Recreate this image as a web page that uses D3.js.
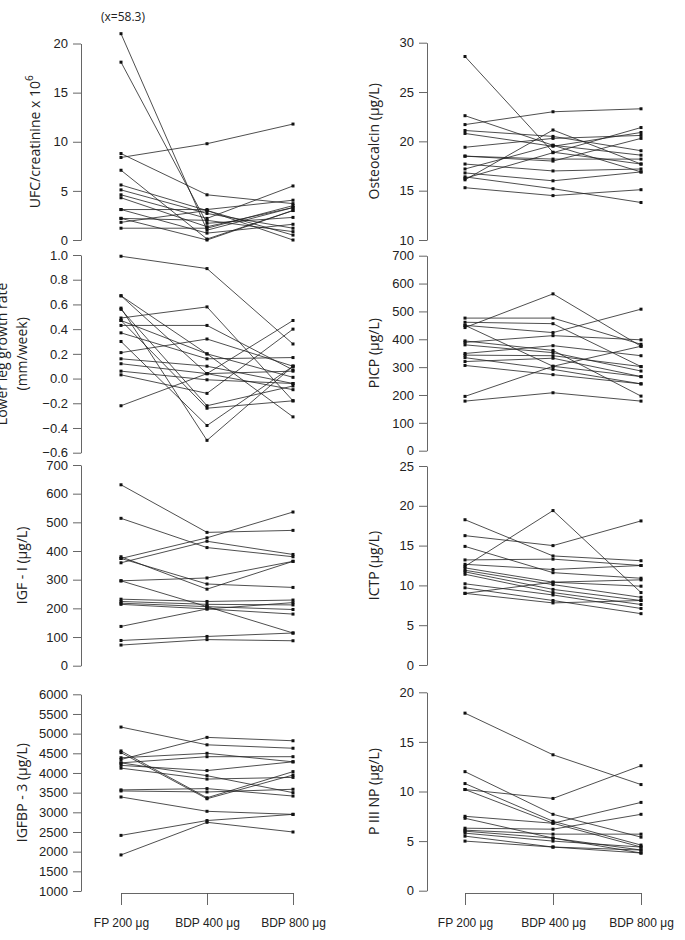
<!DOCTYPE html>
<html>
<head>
<meta charset="utf-8">
<script src="https://cdn.jsdelivr.net/npm/d3@7"></script>
<style>
  html, body { margin: 0; padding: 0; background: #fff; }
  svg { display: block; font-family: "Open Sans", "Noto Sans", sans-serif; }
</style>
</head>
<body>
<svg id="chart" width="685" height="940"></svg>
<script>
// ---------------- data (one triple per subject: FP 200, BDP 400, BDP 800) ----------------
const treatments = ["FP 200 μg", "BDP 400 μg", "BDP 800 μg"];

const ufc = [
  [21.0, 1.0, 3.3], [18.1, 1.7, 2.3], [8.4, 9.8, 11.8], [8.8, 4.6, 3.7],
  [7.1, 0.1, 3.0], [5.6, 3.0, 0.5], [5.1, 2.7, 1.2], [4.6, 2.2, 5.5],
  [4.3, 1.35, 3.3], [3.1, 3.1, 4.05], [3.1, 0.7, 1.6], [2.2, 2.0, 0.85],
  [1.8, 3.0, 0.0], [1.2, 1.2, 3.5], [2.2, 0.0, 3.0]
];
const ufcOffScale = "(x=58.3)";

const osteocalcin = [
  [28.6, 18.9, 17.7], [21.7, 23.0, 23.3], [22.6, 19.6, 18.6], [16.1, 21.15, 17.7],
  [16.25, 18.85, 21.4], [21.1, 20.5, 19.05], [20.8, 19.5, 20.9], [19.4, 20.3, 20.6],
  [18.5, 18.2, 18.2], [18.5, 18.0, 20.3], [17.7, 17.0, 17.2], [17.2, 19.6, 16.9],
  [16.8, 16.0, 16.9], [16.4, 15.2, 13.8], [15.3, 14.5, 15.1]
];

const legGrowth = [
  [0.99, 0.89, 0.28], [0.49, 0.58, -0.18], [0.43, 0.43, 0.07], [0.21, 0.32, 0.10],
  [0.67, 0.04, 0.06], [0.57, -0.50, 0.10], [0.56, -0.22, -0.06], [0.47, 0.20, -0.31],
  [0.37, 0.16, 0.17], [0.30, -0.38, 0.10], [0.16, 0.10, -0.04], [0.12, 0.04, -0.09],
  [0.06, -0.01, -0.04], [0.03, -0.12, 0.40], [-0.22, 0.04, 0.47], [0.67, 0.20, 0.01],
  [0.47, -0.24, -0.18]
];

const picp = [
  [442, 563, 375], [476, 476, 382], [461, 456, 302], [450, 424, 508],
  [195, 303, 375], [178, 208, 178], [394, 360, 196], [389, 413, 398],
  [380, 352, 286], [349, 377, 341], [343, 341, 302], [334, 292, 240],
  [320, 332, 266], [306, 273, 240], [450, 303, 266]
];

const igf1 = [
  [631, 465, 472], [514, 412, 380], [374, 446, 536], [359, 434, 388],
  [380, 267, 364], [374, 285, 273], [296, 306, 364], [296, 206, 114],
  [232, 224, 229], [224, 214, 212], [218, 206, 196], [214, 198, 180],
  [137, 198, 220], [88, 102, 114], [72, 91, 87]
];

const ictp = [
  [18.25, 13.7, 13.1], [12.4, 19.4, 9.1], [16.25, 15.0, 18.1], [14.9, 11.6, 10.9],
  [13.2, 13.3, 12.5], [12.65, 12.0, 12.5], [12.2, 10.4, 9.9], [11.9, 10.1, 8.5],
  [11.7, 9.5, 8.1], [11.4, 9.1, 7.6], [10.2, 8.8, 7.1], [9.7, 8.1, 6.45],
  [9.0, 10.4, 10.7], [9.0, 7.8, 8.1]
];

const igfbp3 = [
  [5167, 4716, 4629], [4343, 4905, 4819], [4560, 3370, 4034], [4517, 3345, 3948],
  [4387, 4500, 4284], [4257, 4414, 4414], [4193, 4061, 4284], [4123, 3845, 3888],
  [4257, 3931, 3500], [3570, 3603, 3414], [3543, 3517, 3586], [3390, 3026, 2948],
  [2414, 2791, 2948], [1917, 2746, 2500]
];

const p3np = [
  [17.9, 13.7, 10.7], [10.2, 9.3, 12.6], [12.0, 7.7, 5.4], [10.8, 7.0, 4.6],
  [10.2, 6.8, 4.4], [7.5, 6.8, 8.9], [7.3, 5.3, 4.1], [6.3, 6.2, 7.7],
  [6.1, 5.7, 5.7], [5.8, 5.0, 4.4], [5.5, 4.4, 3.8], [5.0, 4.4, 4.1],
  [6.0, 5.3, 3.8]
];

const ufcTicks = [0, 5, 10, 15, 20];
const osteoTicks = [10, 15, 20, 25, 30];
const legTicks = [-0.6, -0.4, -0.2, 0.0, 0.2, 0.4, 0.6, 0.8, 1.0];
const picpTicks = [0, 100, 200, 300, 400, 500, 600, 700];
const igfTicks = [0, 100, 200, 300, 400, 500, 600, 700];
const ictpTicks = [0, 5, 10, 15, 20, 25];
const igfbpTicks = [1000, 1500, 2000, 2500, 3000, 3500, 4000, 4500, 5000, 5500, 6000];
const p3npTicks = [0, 5, 10, 15, 20];

// ---------------- layout ----------------
const svg = d3.select("#chart");
const columns = [
  { axisX: 81, xRange: [121, 293], labelX: 21 },
  { axisX: 427, xRange: [465, 641], labelX: 373 }
];
const xScales = columns.map(c => d3.scalePoint().domain(treatments).range(c.xRange));

const panels = [
  { col: 0, data: ufc, ticks: ufcTicks, fmt: d3.format("d"), range: [240, 43.5], label: ["UFC/creatinine x 10", "6"], labelX: 34 },
  { col: 1, data: osteocalcin, ticks: osteoTicks, fmt: d3.format("d"), range: [240, 42.7], label: ["Osteocalcin (μg/L)"] },
  { col: 0, data: legGrowth, ticks: legTicks, fmt: d3.format(".1f"), range: [452.7, 255], label: ["Lower leg growth rate", "(mm/week)"], twoLine: true },
  { col: 1, data: picp, ticks: picpTicks, fmt: d3.format("d"), range: [450.7, 255.7], label: ["PICP (μg/L)"] },
  { col: 0, data: igf1, ticks: igfTicks, fmt: d3.format("d"), range: [665.7, 465], label: ["IGF - I (μg/L)"] },
  { col: 1, data: ictp, ticks: ictpTicks, fmt: d3.format("d"), range: [665, 466], label: ["ICTP (μg/L)"] },
  { col: 0, data: igfbp3, ticks: igfbpTicks, fmt: d3.format("d"), range: [891, 694.3], label: ["IGFBP - 3 (μg/L)"] },
  { col: 1, data: p3np, ticks: p3npTicks, fmt: d3.format("d"), range: [890.7, 692.3], label: ["P III NP (μg/L)"] }
];

const axisColor = "#555";
const textColor = "#222";

panels.forEach(p => {
  const col = columns[p.col];
  const x = xScales[p.col];
  const y = d3.scaleLinear()
    .domain([d3.min(p.ticks), d3.max(p.ticks)])
    .range(p.range);

  // y axis
  const g = svg.append("g").attr("transform", `translate(${col.axisX},0)`);
  g.call(d3.axisLeft(y).tickValues(p.ticks).tickFormat(p.fmt).tickSizeInner(8).tickSizeOuter(0).tickPadding(5));
  g.select(".domain").attr("stroke", axisColor).attr("stroke-width", 0.9);
  g.selectAll(".tick line").attr("stroke", axisColor).attr("stroke-width", 0.9);
  g.selectAll(".tick text").attr("fill", textColor).style("font-size", "13px")
    .text(d => p.fmt(d).replace("-", "-"));

  // y label
  const cy = (p.range[0] + p.range[1]) / 2;
  if (p.twoLine) {
    [[1, p.label[0]], [col.labelX, p.label[1]]].forEach(([lx, txt]) => {
      svg.append("text")
        .attr("transform", `translate(${lx},${cy}) rotate(-90)`)
        .attr("text-anchor", "middle").attr("dominant-baseline", "central")
        .attr("fill", textColor).style("font-size", "14px").text(txt);
    });
  } else {
    const t = svg.append("text")
      .attr("transform", `translate(${p.labelX || col.labelX},${cy}) rotate(-90)`)
      .attr("text-anchor", "middle").attr("dominant-baseline", "central")
      .attr("fill", textColor).style("font-size", "14px");
    t.append("tspan").text(p.label[0]);
    if (p.label[1]) {
      t.append("tspan").attr("dy", "-0.55em").style("font-size", "10px").text(p.label[1]);
    }
  }

  // subject lines
  const line = d3.line().x((d, i) => x(treatments[i])).y(d => y(d));
  svg.append("g").selectAll("path").data(p.data).join("path")
    .attr("d", line)
    .attr("fill", "none")
    .attr("stroke", "#222")
    .attr("stroke-width", 0.8);

  // points
  const pts = p.data.flatMap(s => s.map((v, i) => ({ t: treatments[i], v })));
  svg.append("g").selectAll("rect").data(pts).join("rect")
    .attr("x", d => x(d.t) - 1.5)
    .attr("y", d => y(d.v) - 1.5)
    .attr("width", 3).attr("height", 3)
    .attr("fill", "#111");

  if (p.data === ufc) {
    svg.append("text")
      .attr("x", x(treatments[0]) + 2).attr("y", 21)
      .attr("text-anchor", "middle")
      .attr("fill", textColor).style("font-size", "12px")
      .text(ufcOffScale);
  }
});

// bottom x axes
columns.forEach((c, i) => {
  const g = svg.append("g").attr("transform", `translate(0,893)`);
  g.call(d3.axisBottom(xScales[i]).tickSizeInner(12).tickSizeOuter(0).tickPadding(13));
  g.select(".domain").attr("stroke", axisColor).attr("stroke-width", 0.9);
  g.selectAll(".tick line").attr("stroke", axisColor).attr("stroke-width", 0.9);
  g.selectAll(".tick text").attr("fill", textColor).style("font-size", "12px");
});
</script>
</body>
</html>
